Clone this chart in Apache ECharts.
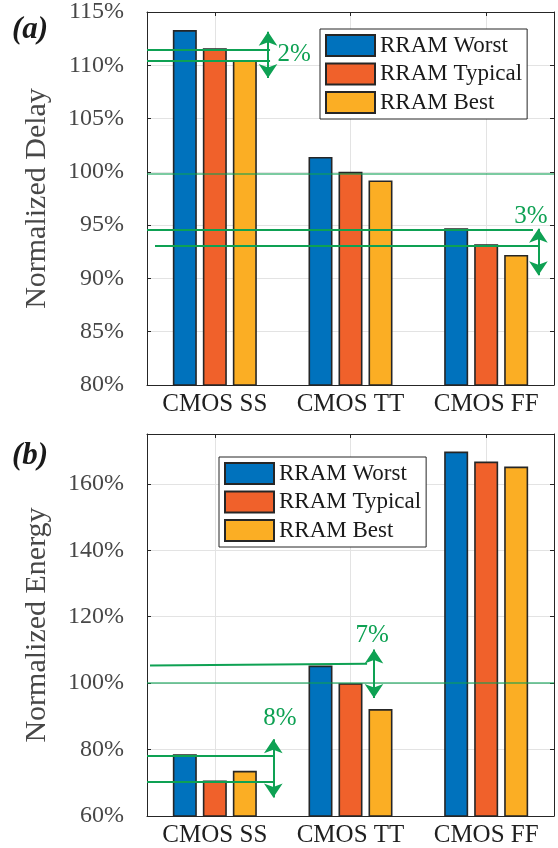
<!DOCTYPE html>
<html><head><meta charset="utf-8">
<script src="https://cdn.jsdelivr.net/npm/echarts@6/dist/echarts.min.js"></script>
<style>html,body{margin:0;padding:0;background:#fff}#c{width:558px;height:848px}</style>
</head><body><div id="c"></div>
<script>
const categories = ['CMOS SS', 'CMOS TT', 'CMOS FF'];
const seriesNames = ['RRAM Worst', 'RRAM Typical', 'RRAM Best'];
const delayWorst = [113.3, 101.4, 94.7];
const delayTypical = [111.6, 100.0, 93.2];
const delayBest = [110.5, 99.2, 92.2];
const energyWorst = [78.6, 105.3, 169.7];
const energyTypical = [70.7, 100.0, 166.7];
const energyBest = [73.6, 92.2, 165.2];
const delayTicks = [80, 85, 90, 95, 100, 105, 110, 115];
const energyTicks = [60, 80, 100, 120, 140, 160];
// annotation geometry: x in category units (0..3), y in %
const delayRefLine = [[[0, 99.85], [3, 99.85]]];
const delaySegments = [
  [[0, 111.5], [0.907, 111.5]],
  [[0, 110.4], [0.907, 110.4]],
  [[0, 94.55], [2.845, 94.55]],
  [[0.059, 93.06], [2.889, 93.06]]
];
const delayArrows = [
  [[0.892, 113.15], [0.892, 108.8]],
  [[2.885, 94.65], [2.885, 90.3]]
];
const delayLabels = [['2%', 1.085, 111.06], ['3%', 2.83, 95.86]];
const energyRefLine = [[[0, 100], [3, 100]]];
const energySegments = [
  [[0.022, 105.3], [1.622, 105.8]],
  [[0, 78.2], [0.94, 78.2]],
  [[0, 70.3], [0.94, 70.3]]
];
const energyArrows = [
  [[1.673, 110.1], [1.673, 95.5]],
  [[0.931, 83.1], [0.931, 65.6]]
];
const energyLabels = [['7%', 1.66, 114.5], ['8%', 0.98, 89.5]];

const FONT = 'Liberation Serif';
const colors = ['#0072BD', '#F0612B', '#FBAE24'];
const GREEN = '#0EA153';
const LIGHTGREEN = 'rgba(14,161,83,0.55)';
const AX = '#262626';

function xAxes(g) {
  return [
    { gridIndex: g, type: 'category', data: categories, position: 'bottom',
      axisLine: { show: true, lineStyle: { color: AX, width: 1 } },
      axisTick: { show: true, inside: true, alignWithLabel: true, length: 4, lineStyle: { color: AX } },
      axisLabel: { fontFamily: FONT, fontSize: 25, color: '#1f1f1f', margin: 7, interval: 0, hideOverlap: false },
      splitLine: { show: true, alignWithLabel: true, lineStyle: { color: '#e3e3e3', width: 1 } } },
    { gridIndex: g, type: 'category', data: categories, position: 'top',
      axisLine: { show: true, lineStyle: { color: AX, width: 1 } },
      axisTick: { show: true, inside: true, alignWithLabel: true, length: 4, lineStyle: { color: AX } },
      axisLabel: { show: false }, splitLine: { show: false } },
    { gridIndex: g, type: 'value', min: 0, max: 3, show: false }
  ];
}
function yAxes(g, min, max, interval, ticks, name) {
  return [
    { gridIndex: g, type: 'value', min: min, max: max, interval: interval, position: 'left',
      axisLine: { show: true, lineStyle: { color: AX, width: 1 } },
      axisTick: { show: true, inside: true, length: 4, lineStyle: { color: AX } },
      axisLabel: { fontFamily: FONT, fontSize: 24, color: '#474747', margin: 23,
        formatter: v => ticks.indexOf(v) >= 0 ? v + '%' : '' },
      splitLine: { show: true, lineStyle: { color: '#e3e3e3', width: 1 } },
      name: name, nameLocation: 'middle', nameGap: 95,
      nameTextStyle: { fontFamily: FONT, fontSize: 30, color: '#474747' } },
    { gridIndex: g, type: 'value', min: min, max: max, interval: interval, position: 'right',
      axisLine: { show: true, lineStyle: { color: AX, width: 1 } },
      axisTick: { show: true, inside: true, length: 4, lineStyle: { color: AX } },
      axisLabel: { show: false }, splitLine: { show: false } }
  ];
}
function bars(xi, yi, arrs) {
  return arrs.map((d, i) => ({
    type: 'bar', name: seriesNames[i], xAxisIndex: xi, yAxisIndex: yi, data: d,
    barWidth: 24, barGap: '25%',
    itemStyle: { color: colors[i], borderColor: AX, borderWidth: 1.6 }, z: 2
  }));
}
function annot(xi, yi, ref, segs, arrows, labels) {
  return [
    { type: 'lines', coordinateSystem: 'cartesian2d', xAxisIndex: xi, yAxisIndex: yi, silent: true,
      symbol: ['none', 'none'], lineStyle: { color: LIGHTGREEN, width: 1.8, opacity: 1 },
      data: ref.map(c => ({ coords: c })), z: 5 },
    { type: 'lines', coordinateSystem: 'cartesian2d', xAxisIndex: xi, yAxisIndex: yi, silent: true,
      symbol: ['none', 'none'], lineStyle: { color: GREEN, width: 2, opacity: 1 },
      data: segs.map(c => ({ coords: c })), z: 5 },
    { type: 'lines', coordinateSystem: 'cartesian2d', xAxisIndex: xi, yAxisIndex: yi, silent: true,
      symbol: ['arrow', 'arrow'], symbolSize: 14, lineStyle: { color: GREEN, width: 2, opacity: 1 },
      data: arrows.map(c => ({ coords: c })), z: 5 },
    { type: 'scatter', xAxisIndex: xi, yAxisIndex: yi, silent: true, symbolSize: 1,
      itemStyle: { color: 'rgba(0,0,0,0)', opacity: 1 },
      data: labels.map(l => ({ name: l[0], value: [l[1], l[2]] })),
      label: { show: true, position: 'inside', formatter: '{b}', color: GREEN, opacity: 1,
        fontFamily: FONT, fontSize: 25 },
      z: 6 }
  ];
}
function legend(left, top) {
  return { orient: 'vertical', left: left, top: top, itemWidth: 49, itemHeight: 21, itemGap: 5.5,
    padding: 5, borderColor: AX, borderWidth: 1, backgroundColor: '#fff', icon: 'rect',
    selectedMode: false, data: seriesNames,
    textStyle: { fontFamily: FONT, fontSize: 23, color: '#1a1a1a' } };
}
const chart = echarts.init(document.getElementById('c'), null, { renderer: 'canvas' });
chart.setOption({
  animation: false,
  backgroundColor: '#fff',
  title: [
    { text: '(a)', left: 12, top: 14, padding: 0,
      textStyle: { fontFamily: FONT, fontStyle: 'italic', fontWeight: 'bold', fontSize: 31, color: '#1a1a1a' } },
    { text: '(b)', left: 12, top: 440, padding: 0,
      textStyle: { fontFamily: FONT, fontStyle: 'italic', fontWeight: 'bold', fontSize: 31, color: '#1a1a1a' } }
  ],
  legend: [legend(320, 29), legend(219, 457)],
  grid: [
    { left: 147, top: 9, width: 407, height: 376, containLabel: false },
    { left: 147, top: 434, width: 407, height: 382, containLabel: false }
  ],
  xAxis: [...xAxes(0), ...xAxes(1)],
  yAxis: [...yAxes(0, 80, 115, 5, delayTicks, 'Normalized Delay'),
          ...yAxes(1, 60, 175, 20, energyTicks, 'Normalized Energy')],
  series: [
    ...bars(0, 0, [delayWorst, delayTypical, delayBest]),
    ...bars(3, 2, [energyWorst, energyTypical, energyBest]),
    ...annot(2, 0, delayRefLine, delaySegments, delayArrows, delayLabels),
    ...annot(5, 2, energyRefLine, energySegments, energyArrows, energyLabels)
  ]
});
</script></body></html>
